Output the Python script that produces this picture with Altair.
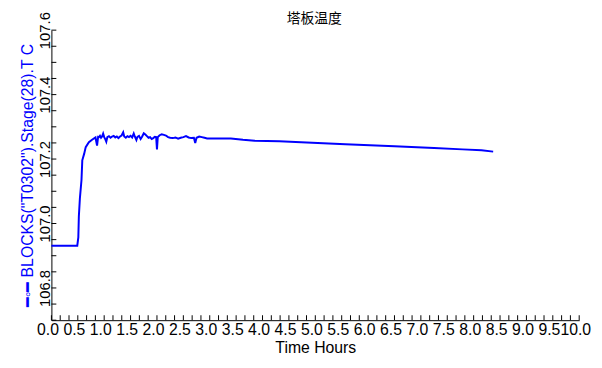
import altair as alt
import pandas as pd

# Series (three segments: start/rise, noisy plateau, slow decline)
hours_rise = [0.0, 0.49, 0.51, 0.52, 0.54, 0.57, 0.585, 0.62, 0.65, 0.71, 0.77,
              0.835, 0.865, 0.885]
temps_rise = [106.931, 106.931, 106.957, 107.022, 107.079, 107.135, 107.196,
              107.216, 107.237, 107.252, 107.260, 107.267, 107.242, 107.269]

hours_plateau = [0.90, 0.92, 0.94, 0.96, 0.98, 1.00, 1.02, 1.04, 1.06, 1.09, 1.12,
                 1.15, 1.18, 1.21, 1.24, 1.27, 1.30, 1.33, 1.36, 1.38, 1.41, 1.44,
                 1.47, 1.50, 1.53, 1.56, 1.58, 1.61, 1.63, 1.66, 1.69, 1.72, 1.75,
                 1.78, 1.81, 1.84, 1.87, 1.90, 1.93, 1.96, 1.985, 2.00, 2.015, 2.05,
                 2.09, 2.13, 2.17, 2.21, 2.25, 2.30, 2.35, 2.40, 2.45, 2.50, 2.55,
                 2.60, 2.65, 2.70, 2.725, 2.75, 2.80, 2.85, 2.90, 2.95]
temps_plateau = [107.268, 107.272, 107.266, 107.270, 107.279, 107.268, 107.262,
                 107.254, 107.268, 107.271, 107.266, 107.270, 107.272, 107.267,
                 107.270, 107.265, 107.270, 107.273, 107.283, 107.270, 107.266,
                 107.271, 107.268, 107.272, 107.267, 107.279, 107.270, 107.259,
                 107.269, 107.272, 107.262, 107.270, 107.280, 107.276, 107.271,
                 107.266, 107.268, 107.262, 107.265, 107.269, 107.268, 107.230,
                 107.268, 107.274, 107.277, 107.275, 107.273, 107.268, 107.266,
                 107.265, 107.267, 107.263, 107.266, 107.268, 107.271, 107.267,
                 107.265, 107.266, 107.250, 107.266, 107.270, 107.268, 107.266,
                 107.264]

hours_decline = [3.40, 3.63, 3.85, 4.32, 4.73, 5.57, 6.50, 7.25, 7.79, 8.15, 8.37]
temps_decline = [107.264, 107.260, 107.257, 107.255, 107.252, 107.246, 107.240,
                 107.234, 107.230, 107.227, 107.223]

# Axis labels / ticks
x_labels = [i * 0.5 for i in range(21)]
x_ticks = [i / 6 for i in range(61)]
y_labels = [106.8, 107.0, 107.2, 107.4, 107.6]
y_ticks = [round(106.7 + i * 0.05, 2) for i in range(19)]

title_text = ["塔板温度"]
x_title = "Time Hours"
y_title = "━◦━ BLOCKS(\"T0302\").Stage(28).T C"

df = pd.DataFrame({
    "h": hours_rise + hours_plateau + hours_decline,
    "v": temps_rise + temps_plateau + temps_decline,
})
df_xt = pd.DataFrame({"h": x_ticks})
df_yt = pd.DataFrame({"v": y_ticks})
df_title = pd.DataFrame({"t": title_text})

W, H = 535, 294
FONT = "Liberation Sans"

xscale = alt.Scale(domain=[0, 10], nice=False, zero=False)
yscale = alt.Scale(domain=[106.7, 107.6], nice=False, zero=False)

x_axis = alt.Axis(
    title=x_title, values=x_labels, format=".1f", ticks=False, grid=False,
    domainColor="black", labelColor="black", labelFont=FONT, labelFontSize=16,
    labelOverlap=False, labelFlush=False, labelBound=False, labelPadding=2,
    labelOffset=-4, titleFont=FONT, titleFontSize=16, titleFontWeight="normal",
    titleColor="black", titleY=33, titleBaseline="alphabetic",
)
y_axis = alt.Axis(
    title=y_title, values=y_labels, format=".1f", ticks=False, grid=False,
    domainColor="black", labelColor="black", labelFont=FONT, labelFontSize=15,
    labelAngle=270, labelAlign="center", labelBaseline="alphabetic",
    labelOverlap=False, labelFlush=False, labelBound=False, labelPadding=2,
    labelOffset=0, titleFont=FONT, titleFontSize=16, titleFontWeight="normal",
    titleColor="#0000ff", titleAngle=270, titleAlign="center",
    titleBaseline="alphabetic", titleX=-19, titleY=H / 2,
)

line = alt.Chart(df).mark_line(color="#0000ff", strokeWidth=2).encode(
    x=alt.X("h:Q", scale=xscale, axis=x_axis),
    y=alt.Y("v:Q", scale=yscale, axis=y_axis),
)

xt = alt.Chart(df_xt).mark_rule(color="black", strokeWidth=1).encode(
    x=alt.X("h:Q", scale=xscale, axis=x_axis),
    y=alt.value(H),
    y2=alt.value(H - 5),
)

yt = alt.Chart(df_yt).mark_rule(color="black", strokeWidth=1).encode(
    y=alt.Y("v:Q", scale=yscale, axis=y_axis),
    x=alt.value(0),
    x2=alt.value(5),
)

title = alt.Chart(df_title).mark_text(
    font="Noto Sans CJK SC", fontSize=14, color="black",
    align="center", baseline="alphabetic",
).encode(text="t:N", x=alt.value(W / 2 - 1), y=alt.value(-7))

chart = alt.layer(xt, yt, line, title).properties(
    width=W,
    height=H,
    padding={"left": 44, "top": 20, "right": 15, "bottom": 44},
    autosize=alt.AutoSizeParams(type="none"),
).configure_view(stroke=None)

chart.save("out.html", embed_options={"renderer": "svg", "actions": False})
